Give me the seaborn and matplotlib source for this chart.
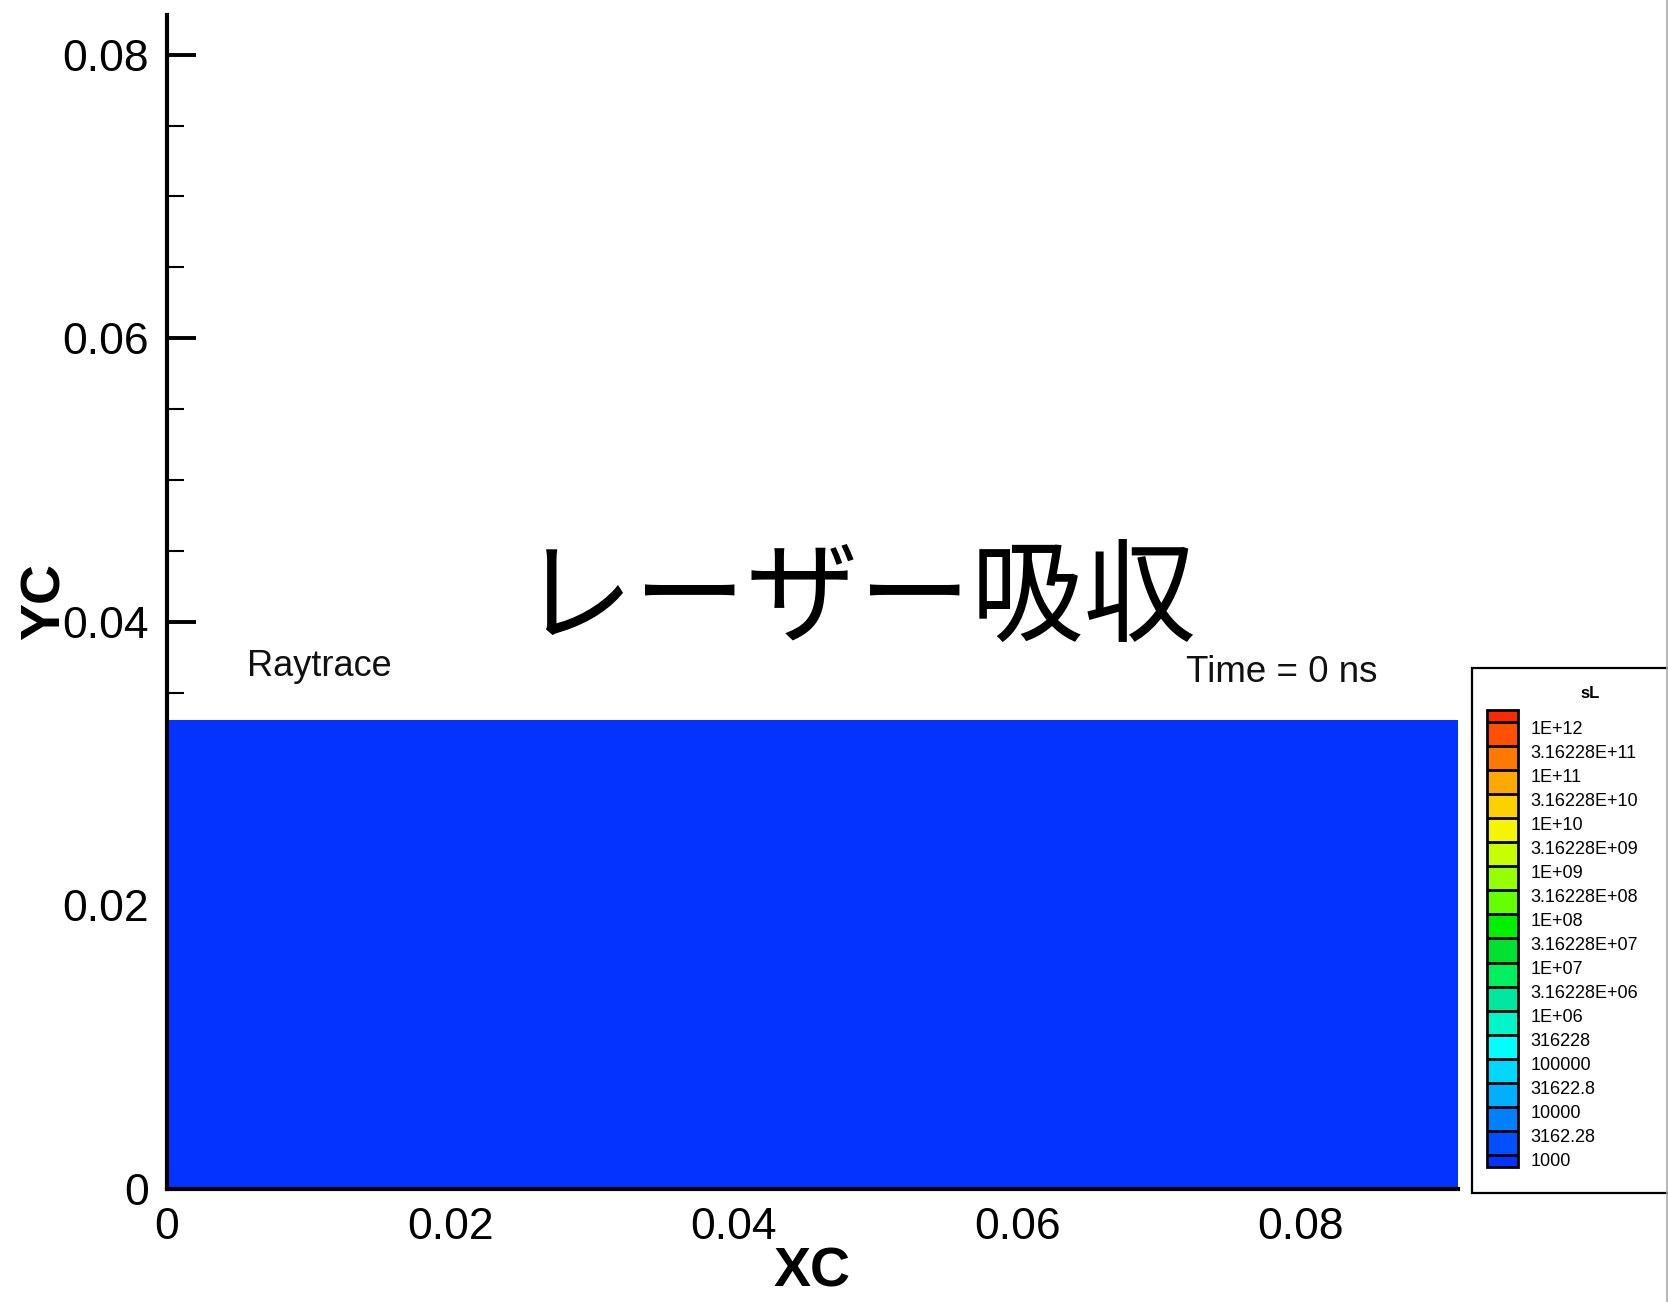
import numpy as np
import matplotlib
matplotlib.use("Agg")
import matplotlib.pyplot as plt
from matplotlib.colors import ListedColormap, BoundaryNorm
from matplotlib.ticker import MultipleLocator, FuncFormatter
from matplotlib.patches import Rectangle
from matplotlib.lines import Line2D
from matplotlib.transforms import ScaledTranslation
import seaborn as sns

# ---- data -------------------------------------------------------------
# computational mesh extent of the target slab (m)
mesh_x = [0.0, 0.0911]
mesh_y = [0.0, 0.0331]
# absorbed laser energy density sL on the mesh at t = 0 (nothing absorbed yet)
sL_field = [[0.0]]

x_limits = [0.0, 0.0911]
y_limits = [0.0, 0.0828]

# contour levels of sL and their legend labels
sL_levels = [1000.0, 3162.28, 10000.0, 31622.8, 100000.0, 316228.0,
             1e6, 3.16228e6, 1e7, 3.16228e7, 1e8, 3.16228e8,
             1e9, 3.16228e9, 1e10, 3.16228e10, 1e11, 3.16228e11, 1e12]
sL_labels = ["1000", "3162.28", "10000", "31622.8", "100000", "316228",
             "1E+06", "3.16228E+06", "1E+07", "3.16228E+07", "1E+08",
             "3.16228E+08", "1E+09", "3.16228E+09", "1E+10", "3.16228E+10",
             "1E+11", "3.16228E+11", "1E+12"]
# band colours from lowest (below 1000) to highest (above 1E+12)
band_colors = ["#0433FF", "#0050FF", "#0080FF", "#00B0FF", "#00D8FF",
               "#00FFFF", "#00F5C8", "#00E8A0", "#00F060", "#00E030",
               "#00F000", "#64FF00", "#96FF00", "#C8FF00", "#F5F500",
               "#FFD000", "#FFA800", "#FF7800", "#FF5000", "#FF2800"]

# ---- style ------------------------------------------------------------
sns.set_theme(style="ticks")
plt.rcParams["font.family"] = ["Liberation Sans", "Noto Sans CJK JP", "DejaVu Sans"]
plt.rcParams["axes.linewidth"] = 3.0

W, H = 1668, 1302
fig = plt.figure(figsize=(W / 100, H / 100), dpi=100)
fig.patch.set_facecolor("white")

def fx(px):
    return px / W

def fy(py):
    return 1 - py / H

ax = fig.add_axes([fx(167), fy(1189), fx(1291), 1174 / H])
ax.set_facecolor("white")

cmap = ListedColormap(sns.color_palette(band_colors))
norm = BoundaryNorm(sL_levels, ncolors=cmap.N, extend="both")

mesh = ax.pcolormesh(mesh_x, mesh_y, np.array(sL_field), cmap=cmap, norm=norm,
                     shading="flat", zorder=1)

ax.set_xlim(*x_limits)
ax.set_ylim(*y_limits)

for side in ("top", "right"):
    ax.spines[side].set_visible(False)
for side in ("left", "bottom"):
    ax.spines[side].set_color("black")
    ax.spines[side].set_linewidth(3.0)
    ax.spines[side].set_zorder(3)

fmt = FuncFormatter(lambda v, p: "0" if abs(v) < 1e-12 else f"{v:g}")
for axis in (ax.xaxis, ax.yaxis):
    axis.set_major_locator(MultipleLocator(0.02))
    axis.set_minor_locator(MultipleLocator(0.005))
    axis.set_major_formatter(fmt)

ax.tick_params(which="major", direction="in", length=21, width=2.8,
               color="black", labelsize=32, pad=13, labelcolor="black")
ax.tick_params(which="minor", direction="in", length=12, width=1.5,
               color="black")

ax.set_xlabel("XC", fontsize=40, fontweight="bold", color="black")
ax.set_ylabel("YC", fontsize=40, fontweight="bold", color="black")
ax.xaxis.set_label_coords(0.5, -0.049)
ax.yaxis.set_label_coords(-0.074, 0.5)

# ---- annotations -------------------------------------------------------
fig.text(fx(859), fy(601), "レーザー吸収", ha="center", va="center",
         fontsize=81, family=["Noto Sans CJK JP", "DejaVu Sans"], color="black")
fig.text(fx(247), fy(667), "Raytrace", ha="left", va="center",
         fontsize=26, color="#111111")
fig.text(fx(1186), fy(673), "Time = 0 ns", ha="left", va="center",
         fontsize=26.5, color="#111111")

# ---- contour legend ----------------------------------------------------
frame = Rectangle((fx(1472), fy(1193)), fx(260), (1193 - 668) / H,
                  transform=fig.transFigure, facecolor="white",
                  edgecolor="black", linewidth=1.6, zorder=-1)
fig.patches.append(frame)

cax = fig.add_axes([fx(1487), fy(1167), fx(31), 457 / H])
cax.set_zorder(2)
cbar = fig.colorbar(mesh, cax=cax, extend="both", extendrect=True,
                    extendfrac=0.5 / 18, drawedges=True, spacing="uniform")
cbar.set_ticks(sL_levels, labels=sL_labels)
cbar.ax.tick_params(length=0, labelsize=13, pad=9, labelcolor="black")
cbar.outline.set_edgecolor("black")
cbar.outline.set_linewidth(2.0)
cbar.dividers.set_color("black")
cbar.dividers.set_linewidth(2.0)

# level labels sit slightly below their band boundaries
shift_down = ScaledTranslation(0, -5 / 100, fig.dpi_scale_trans)
for lbl in cbar.ax.get_yticklabels():
    lbl.set_transform(lbl.get_transform() + shift_down)

fig.text(fx(1590), fy(693), "sL", ha="center", va="center",
         fontsize=12, fontweight="bold", color="black")

# thin grey border on the right edge of the canvas
fig.lines.append(Line2D([fx(1666.5), fx(1666.5)], [0, 1],
                        transform=fig.transFigure, color="#aaaaaa",
                        linewidth=1.2))

fig.savefig("out.png", dpi=100, facecolor="white")
